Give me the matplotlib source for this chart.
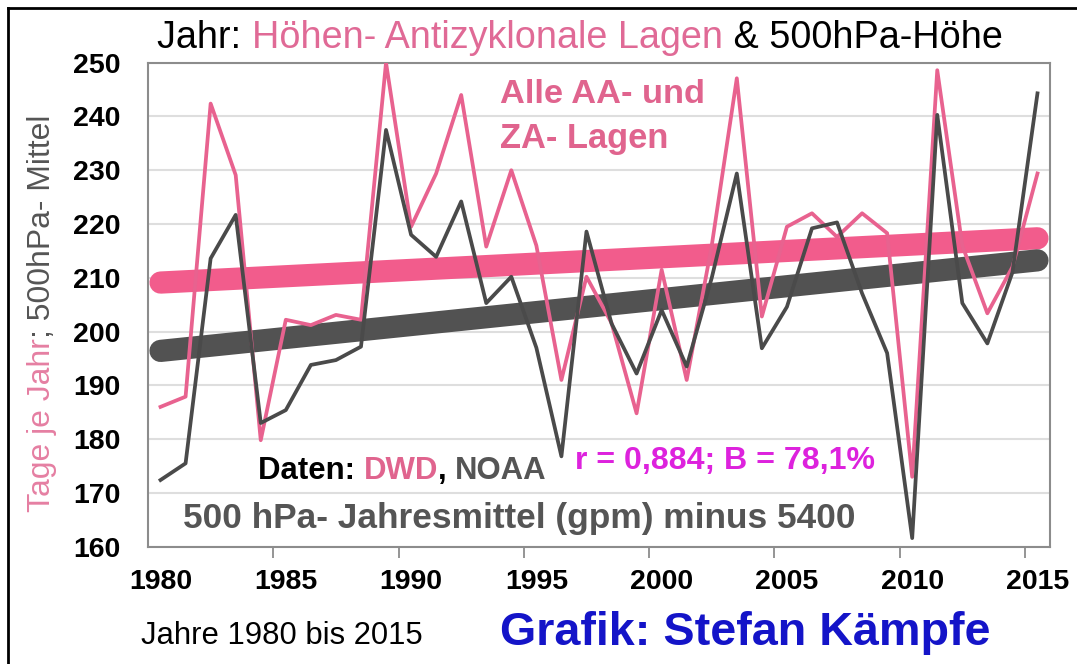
import matplotlib
matplotlib.use('Agg')
import matplotlib.pyplot as plt
import numpy as np
from matplotlib.lines import Line2D

# Data
years = np.arange(1980, 2016)
aa_za_days = [186.0, 187.9, 242.4, 229.1, 179.8, 202.2, 201.2, 203.1, 202.2, 250.0,
              219.5, 229.4, 244.0, 215.8, 230.0, 216.0, 191.0, 210.2, 201.6, 184.8,
              211.5, 191.0, 216.0, 247.1, 202.8, 219.5, 222.0, 217.6, 222.0, 218.3,
              173.0, 248.6, 216.0, 203.4, 212.0, 229.4]
hpa500_minus_5400 = [172.4, 175.5, 213.6, 221.7, 183.0, 185.4, 193.8, 194.7, 197.2, 237.5,
                     218.0, 213.9, 224.2, 205.3, 210.2, 197.0, 176.8, 218.6, 201.5, 192.2,
                     204.0, 193.5, 210.0, 229.4, 196.9, 204.6, 219.2, 220.3, 207.1, 196.0,
                     161.6, 240.3, 205.3, 197.8, 211.0, 244.3]
x_labels = [str(y) for y in years[::5]]
y_ticks = list(range(160, 251, 10))

PINK = '#E8628F'
PINK_TREND = '#F25C8C'
GRAY = '#4A4A4A'
GRAY_TREND = '#525252'
PINK_TXT = '#E0648E'
GRAY_TXT = '#555555'

plt.rcParams['font.family'] = ['Liberation Sans', 'DejaVu Sans']

W, H = 1077, 664
fig = plt.figure(figsize=(W / 100, H / 100), dpi=100)
ax = fig.add_axes([148 / W, 1 - 546.7 / H, (1050 - 148) / W, (546.7 - 62.7) / H])

# trend lines from a linear fit
for vals, col in [(aa_za_days, PINK_TREND), (hpa500_minus_5400, GRAY_TREND)]:
    k, d = np.polyfit(years, vals, 1)
    ax.plot(years, k * years + d, color=col, lw=16, solid_capstyle='round', zorder=2)

ax.plot(years, aa_za_days, color=PINK, lw=2.7, zorder=3)
ax.plot(years, hpa500_minus_5400, color=GRAY, lw=2.7, zorder=4)

ax.set_xlim(1979.5, 2015.5)
ax.set_ylim(160, 250)
ax.set_xticks(years[::5])
ax.set_xticklabels(x_labels, fontsize=20.5, fontweight='bold')
ax.set_xticks(np.arange(1984.5, 2015, 5), minor=True)
ax.tick_params(axis='x', which='major', length=0, pad=16)
ax.tick_params(axis='x', which='minor', length=8, width=1.3, color='#8c8c8c')
ax.set_yticks(y_ticks)
ax.set_yticklabels([str(v) for v in y_ticks], fontsize=20.5, fontweight='bold')
ax.tick_params(axis='y', length=0, pad=20)
ax.grid(axis='y', color='#dedede', lw=1.5)
ax.set_axisbelow(True)
for sp in ax.spines.values():
    sp.set_color('#8c8c8c')
    sp.set_linewidth(1.5)

r = fig.canvas.get_renderer()


def text_w(s, size, weight):
    t = fig.text(0, 0, s, fontsize=size, fontweight=weight)
    w = t.get_window_extent(r).width
    t.remove()
    return w


def run_text(parts, x, y, size, weight='bold', width=None, rotation=0):
    # x, y in pixels from the top-left corner, anchored at baseline start
    full = ''.join(s for s, _ in parts)
    if width:
        size = size * width / text_w(full, size, weight)
    ref = text_w('I', size, weight)
    prefix = ''
    for s, c in parts:
        pos = text_w(prefix + 'I', size, weight) - ref if prefix else 0
        if rotation:
            fig.text(x / W, 1 - (y - pos) / H, s, color=c, fontsize=size,
                     fontweight=weight, rotation=90, rotation_mode='anchor',
                     ha='left', va='baseline')
        else:
            fig.text((x + pos) / W, 1 - y / H, s, color=c, fontsize=size,
                     fontweight=weight, ha='left', va='baseline')
        prefix += s


run_text([('Jahr: ', 'black'), ('Höhen- Antizyklonale Lagen', '#E06A96'),
          (' & 500hPa-Höhe', 'black')], 157, 48, 24, 'normal', width=843)
run_text([('Alle AA- und', PINK_TXT)], 500, 103, 18, 'bold', width=205)
run_text([('ZA- Lagen', PINK_TXT)], 500, 148, 18, 'bold', width=169)
run_text([('Daten: ', 'black'), ('DWD', PINK_TXT), (', ', 'black'), ('NOAA', GRAY_TXT)],
         258, 479, 18, 'bold', width=289)
run_text([('r = 0,884; B = 78,1%', '#DD22DD')], 575, 469, 18, 'bold', width=300)
run_text([('500 hPa- Jahresmittel (gpm) minus 5400', GRAY_TXT)], 183, 528, 18, 'bold',
         width=672)
run_text([('Tage je Jahr', '#E57FA2'), ('; 500hPa- Mittel', GRAY_TXT)], 50, 512, 18,
         'normal', width=397, rotation=90)
run_text([('Jahre 1980 bis 2015', 'black')], 141, 644, 18, 'normal', width=281)
run_text([('Grafik: Stefan Kämpfe', '#1414C8')], 500, 645, 24, 'bold', width=493)

# outer frame (left and top edge visible in the original)
fig.add_artist(Line2D([8 / W, 8 / W], [0, 1 - 8 / H], color='black', lw=2,
                      transform=fig.transFigure))
fig.add_artist(Line2D([8 / W, 1], [1 - 8 / H, 1 - 8 / H], color='black', lw=2,
                      transform=fig.transFigure))

fig.savefig('out.png', dpi=100)
